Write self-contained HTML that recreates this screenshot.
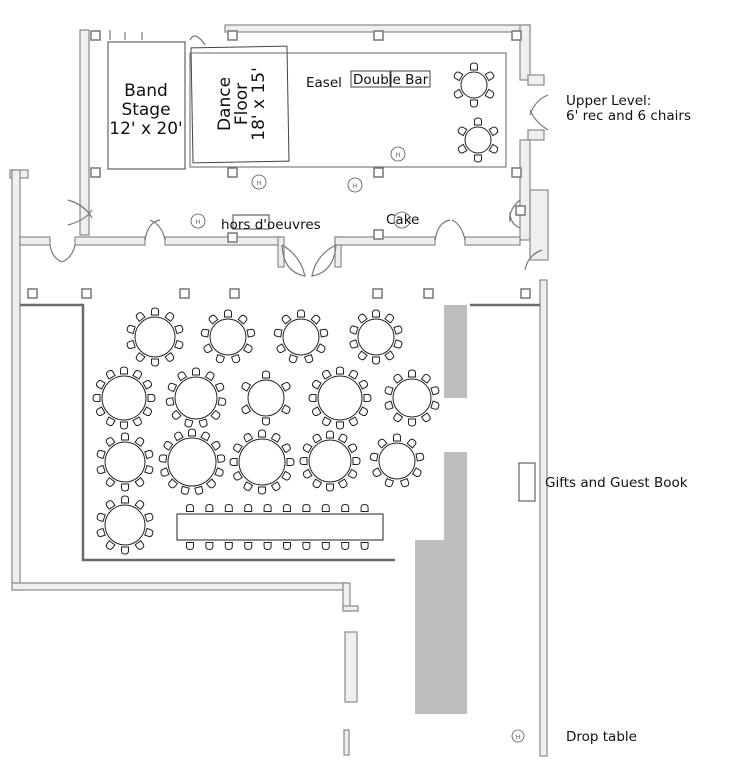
<!DOCTYPE html>
<html><head><style>
body{margin:0;background:#fff;}
svg{display:block;font-family:"DejaVu Sans","Liberation Sans",sans-serif;}
</style></head><body>
<svg id="s" width="752" height="766" viewBox="0 0 752 766" xmlns="http://www.w3.org/2000/svg">
<g fill="#efefef" stroke="#8a8a8a" stroke-width="1.2">
<rect x="80" y="30" width="9" height="205"/>
<rect x="225" y="25" width="305" height="7"/>
<rect x="520" y="25" width="10" height="55"/>
<rect x="528" y="75" width="16" height="10"/>
<rect x="528" y="130" width="16" height="10"/>
<rect x="520" y="140" width="10" height="100"/>
<rect x="530" y="190" width="18" height="70"/>
<rect x="10" y="170" width="18" height="8"/>
<rect x="12" y="170" width="8" height="420"/>
<rect x="20" y="237" width="30" height="8"/>
<rect x="75" y="237" width="70" height="8"/>
<rect x="165" y="237" width="115" height="8"/>
<rect x="278" y="237" width="6" height="30"/>
<rect x="335" y="237" width="6" height="30"/>
<rect x="335" y="237" width="100" height="8"/>
<rect x="465" y="237" width="55" height="8"/>
<rect x="12" y="583" width="335" height="7"/>
<rect x="343" y="583" width="7" height="28"/>
<rect x="343" y="606" width="15" height="5"/>
<rect x="540" y="280" width="7" height="476"/>
<rect x="345" y="632" width="12" height="70"/>
<rect x="344" y="730" width="5" height="25"/>
</g>
<g fill="none" stroke="#777" stroke-width="1.2">
<path d="M282 245 Q283 272 305 276 Q300 255 282 245 M336 245 Q334 272 312 276 Q316 255 336 245"/>
<path d="M145 240 Q148 222 160 220 M165 240 Q162 225 150 220"/>
<path d="M435 240 Q438 222 450 220 M465 240 Q462 225 452 220"/>
<path d="M50 245 Q52 258 62 262 M75 245 Q72 258 62 262"/>
<path d="M68 200 Q85 205 92 218 M68 225 Q86 220 92 210"/>
<path d="M548 95 Q535 100 530 115 M548 130 Q535 122 530 110"/>
<path d="M520 200 Q508 210 510 222 M520 228 Q510 224 510 212"/>
<path d="M542 250 Q528 255 525 270"/>
<path d="M190 40 Q195 30 205 45 M110 40 V30 M125 40 V32 M142 40 V32"/>
</g>
<g fill="none" stroke="#6a6a6a" stroke-width="2.5">
<path d="M20 305 H83 V560 H395"/>
<path d="M470 305 H540"/>
</g>
<g fill="#bdbdbd">
<rect x="444" y="305" width="23" height="93"/>
<rect x="444" y="452" width="23" height="262"/>
<rect x="415" y="540" width="52" height="174"/>
</g>
<g fill="#fff" stroke="#777" stroke-width="1.5" id="cols"></g>
<g fill="#fff" stroke="#444" stroke-width="1">
<rect x="108" y="42" width="77" height="127"/>
<rect x="192" y="47" width="96" height="115" transform="rotate(-1 240 105)"/>
<rect x="190" y="53" width="316" height="114" fill="none" stroke="#666"/>
<rect x="351" y="71" width="39" height="16"/>
<rect x="391" y="71" width="39" height="16"/>
<rect x="519" y="463" width="16" height="38"/>
<rect x="233" y="215" width="36" height="14"/>
</g>
<g id="t" fill="#fff" stroke="#222" stroke-width="1"></g>
<g fill="#fff" stroke="#555" stroke-width="0.8" font-size="6" text-anchor="middle">
<circle cx="398" cy="154" r="7"/><text x="398" y="157" stroke="none" fill="#555">H</text>
<circle cx="259" cy="182" r="7"/><text x="259" y="185" stroke="none" fill="#555">H</text>
<circle cx="355" cy="185" r="7"/><text x="355" y="188" stroke="none" fill="#555">H</text>
<circle cx="198" cy="221" r="7"/><text x="198" y="224" stroke="none" fill="#555">H</text>
<circle cx="402" cy="220" r="8"/>
<circle cx="518" cy="736" r="6"/><text x="518" y="739" stroke="none" fill="#555">H</text>
</g>
<g fill="#111" font-size="17" text-anchor="middle">
<text x="146" y="96">Band</text><text x="146" y="115">Stage</text><text x="146" y="134">12' x 20'</text>
<g transform="translate(240 104) rotate(-90)"><text x="0" y="-10">Dance</text><text x="0" y="7">Floor</text><text x="0" y="24">18' x 15'</text></g>
</g>
<g fill="#111" font-size="13.5">
<text x="306" y="87">Easel</text>
<text x="353" y="84">Double Bar</text>
<text x="221" y="229">hors d'oeuvres</text>
<text x="386" y="224">Cake</text>
<text x="566" y="105">Upper Level:</text>
<text x="566" y="120">6' rec and 6 chairs</text>
<text x="545" y="487">Gifts and Guest Book</text>
<text x="566" y="741">Drop table</text>
</g>
</svg>
<script>
var NS="http://www.w3.org/2000/svg",t=document.getElementById('t'),c=document.getElementById('cols');
function el(p,tag,a){var e=document.createElementNS(NS,tag);for(var k in a)e.setAttribute(k,a[k]);p.appendChild(e);return e;}
function chair(x,y,ang){var g=el(t,'g',{transform:'translate('+x+' '+y+') rotate('+ang+')'});el(g,'path',{d:'M-3.5 -2.5 V1.5 Q-3.5 4.5 0 4.5 Q3.5 4.5 3.5 1.5 V-2.5 Z'});}
function table(x,y,r,n,off){off=off||0;for(var i=0;i<n;i++){var a=off+i*360/n,rad=a*Math.PI/180,d=r+4.5;chair(x+d*Math.cos(rad),y+d*Math.sin(rad),a-90);}el(t,'circle',{cx:x,cy:y,r:r});}
[[155,337,20,10],[228,337,18,9],[301,337,18,9],[376,337,18,10],[124,398,22,12],[196,398,21,11],[266,398,18,6],[340,398,22,12],[412,398,19,10],
[125,462,20,10],[192,462,24,13],[262,462,23,12],[330,461,21,12],[397,461,18,9],[125,525,20,10],[474,85,13,6],[478,140,13,6]].forEach(function(a){table(a[0],a[1],a[2],a[3],-90);});
for(var i=0;i<10;i++){var x=190+i*19.4;chair(x,509,180);chair(x,545,0);}
el(t,'rect',{x:177,y:514,width:206,height:26});
[[95,35],[232,35],[378,35],[516,35],[95,172],[232,172],[378,172],[516,172],[520,210],[32,293],[86,293],[184,293],[234,293],[377,293],[428,293],[525,293],[232,237],[378,234]].forEach(function(p){el(c,'rect',{x:p[0]-4,y:p[1]-4,width:9,height:9});});
</script>
</body></html>
